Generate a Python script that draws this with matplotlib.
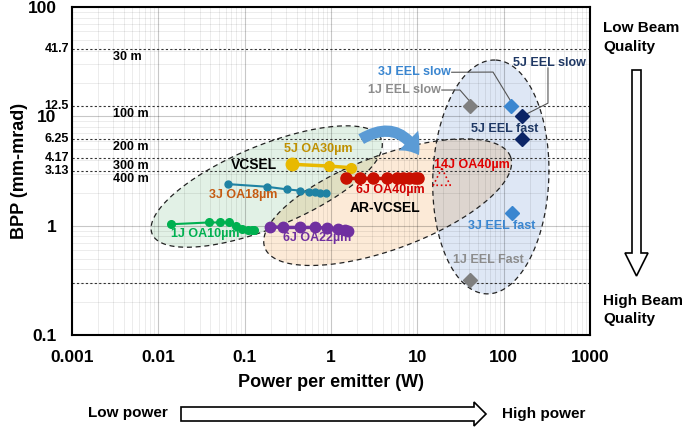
import numpy as np
import matplotlib.pyplot as plt
from matplotlib.patches import FancyArrowPatch, Polygon
from matplotlib.ticker import NullFormatter
from matplotlib.transforms import blended_transform_factory

plt.rcParams['font.family'] = ['Liberation Sans', 'DejaVu Sans']
plt.rcParams['font.weight'] = 'bold'

# ---- data (power per emitter in W, BPP in mm-mrad) ----
p_1j_oa10 = [0.0139, 0.0386, 0.052, 0.066, 0.080, 0.093, 0.110, 0.121, 0.128]
bpp_1j_oa10 = [1.03, 1.07, 1.07, 1.07, 0.99, 0.94, 0.91, 0.91, 0.91]

p_3j_oa18 = [0.0637, 0.180, 0.307, 0.439, 0.557, 0.654, 0.748, 0.877]
bpp_3j_oa18 = [2.40, 2.27, 2.15, 2.09, 2.02, 2.02, 2.00, 2.00]

p_5j_oa30 = [0.357, 0.95, 1.69]
bpp_5j_oa30 = [3.64, 3.51, 3.39]

p_6j_oa40 = [1.50, 2.17, 3.10, 4.43, 5.78, 6.90, 8.1, 9.3, 10.2]
bpp_6j_oa40 = [2.71, 2.71, 2.71, 2.71, 2.71, 2.71, 2.71, 2.71, 2.71]

p_6j_oa22 = [0.197, 0.280, 0.439, 0.655, 0.906, 1.21, 1.45, 1.59]
bpp_6j_oa22 = [0.977, 0.963, 0.963, 0.963, 0.95, 0.93, 0.91, 0.90]

p_14j_oa40 = [19.2]
bpp_14j_oa40 = [2.8]

p_1j_eel = [40.9, 40.9]      # slow, fast
bpp_1j_eel = [12.5, 0.32]
p_3j_eel = [122, 125]
bpp_3j_eel = [12.5, 1.31]
p_5j_eel = [164, 164]
bpp_5j_eel = [10.0, 6.2]

# BPP limits with transmission distances
limit_bpp = [41.7, 12.5, 6.25, 4.17, 3.13]
limit_labels = ['41.7', '12.5', '6.25', '4.17', '3.13']
limit_dist = ['30 m', '100 m', '200 m', '300 m', '400 m']
extra_limit = 0.3

x_ticks = [0.001, 0.01, 0.1, 1, 10, 100, 1000]
x_ticklabels = ['0.001', '0.01', '0.1', '1', '10', '100', '1000']
y_ticks = [0.1, 1, 10, 100]
y_ticklabels = ['0.1', '1', '10', '100']

# ---- figure layout ----
W, H = 685, 428
L, R, T, B = 72, 590, 7, 335
AW, AH = R - L, B - T
pos = [L / W, 1 - B / H, AW / W, AH / H]

fig = plt.figure(figsize=(W / 100, H / 100), dpi=100)
bg = fig.add_axes(pos, zorder=0)
deco = fig.add_axes([0, 0, 1, 1], zorder=1)
ax = fig.add_axes(pos, zorder=2)
ax.patch.set_alpha(0)


def to_px(p, b):
    return (np.log10(p) + 3) / 6 * AW, (np.log10(b) + 1) / 3 * AH


def from_px(x, y):
    return 10 ** (np.asarray(x) / AW * 6 - 3), 10 ** (np.asarray(y) / AH * 3 - 1)


# region ellipses: centre (W, BPP), semi-axes in px, angle in deg, fill colour
regions = [
    ((0.18, 2.28), 124, 41, 22.5, (0xe2, 0xf2, 0xe6)),
    ((4.53, 1.64), 131, 47, 20.3, (0xfd, 0xeb, 0xd8)),
    ((71, 2.79), 117, 58, 87.8, (0xdf, 0xe8, 0xf5)),
]

# multiplied fills like the overlapping translucent shapes
gx, gy = np.meshgrid(np.arange(0, AW, 0.5) + 0.25, np.arange(0, AH, 0.5) + 0.25)
rgb = np.ones(gx.shape + (3,))
for (c, a, b, ang, col) in regions:
    cx, cy = to_px(*c)
    th = np.radians(ang)
    u = (gx - cx) * np.cos(th) + (gy - cy) * np.sin(th)
    v = -(gx - cx) * np.sin(th) + (gy - cy) * np.cos(th)
    m = (u / a) ** 2 + (v / b) ** 2 <= 1
    rgb[m] *= np.array(col) / 255
bg.imshow(rgb, extent=(0, AW, 0, AH), origin='lower', aspect='auto',
          interpolation='antialiased')
bg.set_xlim(0, AW)
bg.set_ylim(0, AH)
bg.axis('off')

ax.set_xscale('log')
ax.set_yscale('log')
ax.set_xlim(0.001, 1000)
ax.set_ylim(0.1, 100)

ax.set_axisbelow(True)
ax.grid(which='major', color='black', alpha=0.22, lw=0.8)
ax.grid(which='minor', color='black', alpha=0.09, lw=0.6)
ax.set_xticks(x_ticks)
ax.set_xticklabels(x_ticklabels)
ax.set_yticks(y_ticks)
ax.set_yticklabels(y_ticklabels)
ax.xaxis.set_minor_formatter(NullFormatter())
ax.yaxis.set_minor_formatter(NullFormatter())
ax.tick_params(which='both', length=0, pad=11, labelsize=12.5)
for s in ax.spines.values():
    s.set_linewidth(1.5)

ax.set_xlabel('Power per emitter (W)', fontsize=13, fontweight='bold', labelpad=6)
ax.set_ylabel('BPP (mm-mrad)', fontsize=13, fontweight='bold')
ax.yaxis.set_label_coords(-0.085, 0.5)

# BPP limit lines
ytrans = blended_transform_factory(ax.transAxes, ax.transData)
for val, lab, dist in zip(limit_bpp, limit_labels, limit_dist):
    ax.axhline(val, color='#333333', lw=0.8, ls=(0, (2, 2)), zorder=1.5)
    ax.text(-0.006, val, lab, transform=ytrans, ha='right', va='center',
            fontsize=9, fontweight='bold')
    ax.annotate(dist, xy=(0.079, val), xycoords=ytrans, xytext=(0, -8),
                textcoords='offset pixels', ha='left', va='center',
                fontsize=9, fontweight='bold')
ax.axhline(extra_limit, color='#333333', lw=0.8, ls=(0, (2, 2)), zorder=1.5)

# ellipse borders
t = np.linspace(0, 2 * np.pi, 400)
for (c, a, b, ang, col) in regions:
    cx, cy = to_px(*c)
    th = np.radians(ang)
    ex = cx + a * np.cos(t) * np.cos(th) - b * np.sin(t) * np.sin(th)
    ey = cy + a * np.cos(t) * np.sin(th) + b * np.sin(t) * np.cos(th)
    dx, dy = from_px(ex, ey)
    ax.plot(dx, dy, color='#222222', lw=0.9, ls=(0, (4, 3)), zorder=2)

# VCSEL series
ax.plot(p_1j_oa10, bpp_1j_oa10, '-o', color='#00b050', lw=1.5, ms=5.5, zorder=3)
ax.plot(p_3j_oa18, bpp_3j_oa18, '-o', color='#1f82a3', lw=1.5, ms=5, zorder=3)
ax.plot(p_5j_oa30, bpp_5j_oa30, '-o', color='#e8b900', lw=2.5, ms=7, zorder=3)
ax.plot(p_5j_oa30[:1], bpp_5j_oa30[:1], 'o', color='#e8b900', ms=9, zorder=3)
ax.plot(p_6j_oa40, bpp_6j_oa40, '-o', color='#c81000', lw=2.5, ms=8, zorder=3)
ax.plot(p_6j_oa22, bpp_6j_oa22, '-o', color='#7030a0', lw=2.5, ms=7.5, zorder=3)
ax.scatter(p_14j_oa40, bpp_14j_oa40, marker='^', s=150, facecolors='none',
           edgecolors='#e00000', linestyles=':', linewidths=1.2, zorder=3)

# EEL points
ax.plot(p_1j_eel, bpp_1j_eel, 'D', color='#7f7f7f', ms=7, zorder=3)
ax.plot(p_3j_eel, bpp_3j_eel, 'D', color='#3a86d0', ms=7, zorder=3)
ax.plot(p_5j_eel, bpp_5j_eel, 'D', color='#0c2566', ms=7, zorder=3)

# labels
lab_kw = dict(ha='center', va='center', fontsize=9, fontweight='bold', zorder=4)
ax.text(0.0352, 0.839, '1J OA10µm', color='#00b050', **lab_kw)
ax.text(0.0957, 1.907, '3J OA18µm', color='#c55a11', **lab_kw)
ax.text(0.717, 5.02, '5J OA30µm', color='#bf9000', **lab_kw)
ax.text(4.83, 2.12, '6J OA40µm', color='#d00000', **lab_kw)
ax.text(0.683, 0.771, '6J OA22µm', color='#7030a0', **lab_kw)
ax.text(43.0, 3.59, '14J OA40µm', color='#e00000', **lab_kw)
ax.text(94.9, 0.993, '3J EEL fast', color='#3a86d0', **lab_kw)
ax.text(66.8, 0.485, '1J EEL Fast', color='#8c8c8c', **lab_kw)
ax.text(103.7, 7.66, '5J EEL fast', color='#1f3864', **lab_kw)
ax.text(9.15, 25.4, '3J EEL slow', color='#3a86d0', **lab_kw)
ax.text(7.01, 17.4, '1J EEL slow', color='#8c8c8c', **lab_kw)
ax.text(340, 30.7, '5J EEL slow', color='#1f3864', **lab_kw)
ax.text(0.128, 3.59, 'VCSEL', ha='center', va='center', fontsize=10,
        fontweight='bold', zorder=4)
ax.text(4.22, 1.45, 'AR-VCSEL', ha='center', va='center', fontsize=10,
        fontweight='bold', zorder=4)

# leader lines for slow-axis EEL labels
lead_kw = dict(color='#555555', lw=0.8, zorder=2.5)
ax.plot([25.0, 75.3, p_3j_eel[0]], [25.3, 25.4, 13.6], **lead_kw)
ax.plot([19.2, 31.2, p_1j_eel[0]], [17.4, 17.4, 13.6], **lead_kw)
ax.plot([326, 326, p_5j_eel[0] * 1.12], [27.7, 13.2, bpp_5j_eel[0] * 1.05], **lead_kw)

# curved blue arrow from VCSEL to AR-VCSEL
ax.add_patch(FancyArrowPatch((2.1, 6.0), (10.8, 4.2),
                             connectionstyle='arc3,rad=-0.55',
                             arrowstyle='simple,head_length=0.8,head_width=1.25,tail_width=0.5',
                             mutation_scale=16, color='#5b9bd5', lw=0, zorder=3.5))

# ---- decorations outside the plot (pixel coordinates) ----
deco.set_xlim(0, W)
deco.set_ylim(H, 0)
deco.axis('off')
deco.patch.set_visible(False)

down = [(632, 70), (641, 70), (641, 253), (648, 253), (636.5, 276),
        (625, 253), (632, 253)]
deco.add_patch(Polygon(down, closed=True, facecolor='white', edgecolor='black', lw=1.2))
right = [(181, 407), (474, 407), (474, 402), (486, 414), (474, 426),
         (474, 421), (181, 421)]
deco.add_patch(Polygon(right, closed=True, facecolor='white', edgecolor='black', lw=1.2))

side_kw = dict(fontsize=11, fontweight='bold', ha='left', va='center', linespacing=1.45)
deco.text(603, 37.5, 'Low Beam\nQuality', **side_kw)
deco.text(603, 310, 'High Beam\nQuality', **side_kw)
deco.text(128, 413, 'Low power', fontsize=11, fontweight='bold', ha='center', va='center')
deco.text(544, 414, 'High power', fontsize=11, fontweight='bold', ha='center', va='center')

fig.savefig('out.png', dpi=100)
